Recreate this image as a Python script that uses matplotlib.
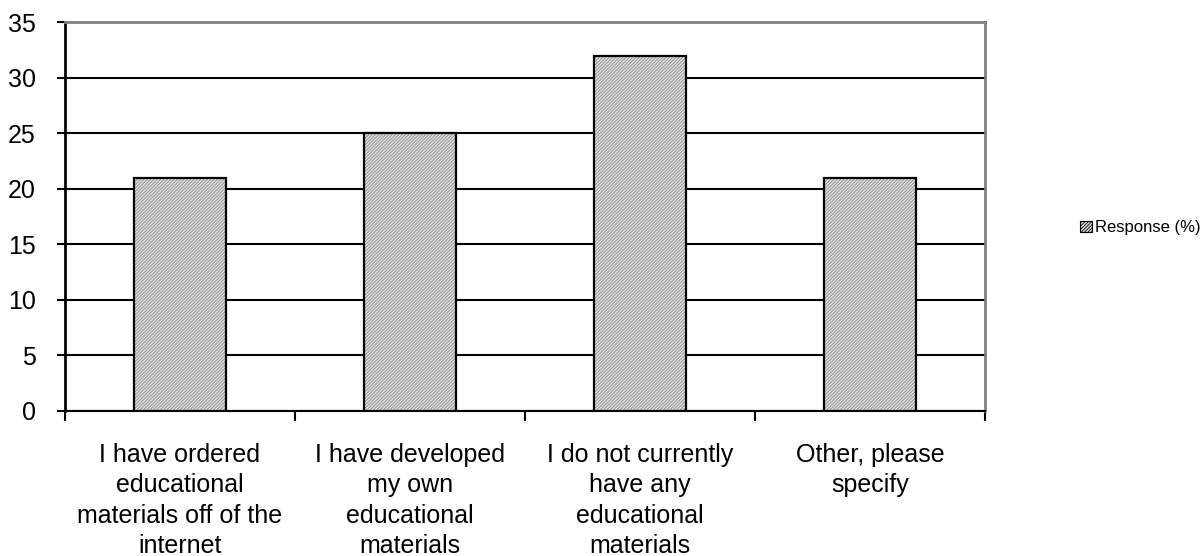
import matplotlib
matplotlib.use("Agg")
import matplotlib.pyplot as plt
from matplotlib.patches import Patch

plt.rcParams['font.family'] = ['Liberation Sans', 'DejaVu Sans']
plt.rcParams['hatch.linewidth'] = 0.6

categories = [
    "I have ordered\neducational\nmaterials off of the\ninternet",
    "I have developed\nmy own\neducational\nmaterials",
    "I do not currently\nhave any\neducational\nmaterials",
    "Other, please\nspecify",
]
values = [21, 25, 32, 21]
series_name = "Response (%)"
y_ticks = [0, 5, 10, 15, 20, 25, 30, 35]

fig = plt.figure(figsize=(12.04, 5.56), dpi=100)
ax = fig.add_axes([0.054, 0.261, 0.764, 0.699])

x = list(range(len(categories)))
hatch_face = '#e0e0e0'
hatch_col = '#8a8a8a'

# patterned fill, then a black outline on top
ax.bar(x, values, width=0.4, color=hatch_face, hatch='//////////',
       edgecolor=hatch_col, linewidth=0, zorder=3)
ax.bar(x, values, width=0.4, fill=False, edgecolor='black',
       linewidth=1.6, zorder=4)

ax.set_xlim(-0.5, len(categories) - 0.5)
ax.set_ylim(0, 35)
ax.set_yticks(y_ticks)
ax.set_yticklabels([str(v) for v in y_ticks], fontsize=18)
ax.yaxis.grid(True, color='black', linewidth=1.5, zorder=1)
ax.set_axisbelow(True)

# category boundaries carry the tick marks; labels sit at the centers
ax.set_xticks([i - 0.5 for i in range(len(categories) + 1)])
ax.set_xticklabels([])
ax.tick_params(axis='x', direction='out', length=7, width=1.5, color='black')
ax.tick_params(axis='y', direction='out', length=6, width=1.5, color='black', pad=15)
for i, lab in enumerate(categories):
    ax.text(i, -2.9, lab, ha='center', va='top', fontsize=18,
            linespacing=1.33, transform=ax.transData)

ax.spines['left'].set_color('black')
ax.spines['left'].set_linewidth(2)
ax.spines['bottom'].set_color('black')
ax.spines['bottom'].set_linewidth(1.5)
for s in ('top', 'right'):
    ax.spines[s].set_color('#808080')
    ax.spines[s].set_linewidth(2)

handle = Patch(facecolor=hatch_face, hatch='//////////', edgecolor='black',
               linewidth=0.8)
fig.legend([handle], [series_name], loc='center left',
           bbox_to_anchor=(0.897, 0.59), frameon=False, fontsize=12,
           handlelength=0.7, handleheight=0.7, handletextpad=0.2,
           borderaxespad=0, borderpad=0)

fig.savefig('out.png', dpi=100, facecolor='white')
